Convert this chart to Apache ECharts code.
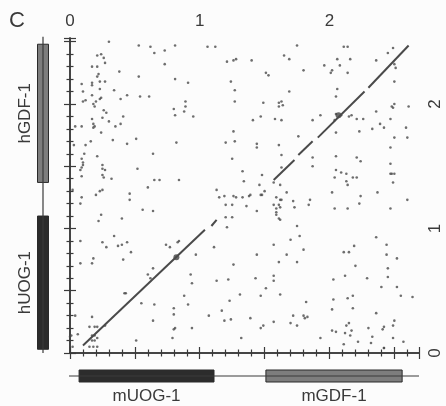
<!DOCTYPE html>
<html>
<head>
<meta charset="utf-8">
<script src="https://cdn.jsdelivr.net/npm/echarts@6/dist/echarts.min.js"></script>
<style>
  html, body { margin: 0; padding: 0; background: #fcfcfc; }
  #chart { width: 446px; height: 406px; }
</style>
</head>
<body>
<div id="chart"></div>
<script>
// sequence lengths shown on the axes (kb)
const xMax = 2.69;
const yMax = 2.53;

// gene maps along each axis
const mouseGeneNames = ['mUOG-1', 'mGDF-1'];
const mouseGeneStart = [0.07, 1.51];
const mouseGeneEnd = [1.11, 2.56];
const humanGeneNames = ['hUOG-1', 'hGDF-1'];
const humanGeneStart = [0.03, 1.37];
const humanGeneEnd = [1.10, 2.48];

// long runs of identity (diagonals), broken into the visible pieces
const uogSegments = [
  [[0.10, 0.06], [1.04, 0.99]],
  [[1.09, 1.02], [1.13, 1.07]]
];
const gdfSegments = [
  [[1.57, 1.39], [1.73, 1.55]],
  [[1.76, 1.59], [1.87, 1.70]],
  [[1.91, 1.73], [2.27, 2.10]],
  [[2.30, 2.13], [2.61, 2.47]]
];
const blobs = [[0.82, 0.77], [2.07, 1.91]];

const dotsTopLeft = [
  [0.30,2.50],[0.53,2.47],[0.62,2.46],[0.81,2.47],[1.06,2.46],[1.12,2.46],[0.65,2.41],[0.73,2.43],
  [0.21,2.39],[0.24,2.40],[0.26,2.37],[0.27,2.33],[0.17,2.30],[0.21,2.30],[0.73,2.32],[0.38,2.26],
  [0.22,2.24],[0.21,2.22],[0.53,2.22],[0.81,2.20],[0.23,2.18],[0.27,2.18],[0.17,2.17],[0.17,2.15],
  [0.91,2.17],[0.09,2.16],[0.23,2.12],[0.10,2.10],[0.34,2.11],[0.54,2.06],[0.61,2.06],[0.44,2.07],
  [0.17,2.07],[0.24,2.05],[0.23,2.04],[0.20,2.02],[0.18,2.00],[0.19,1.98],[0.10,2.02],[0.12,2.03],
  [0.39,2.04],[0.89,2.02],[0.89,1.98],[0.80,1.96],[0.88,1.94],[0.26,1.95],[0.28,1.93],[0.25,1.89],
  [0.41,1.90],[0.81,1.91],[0.95,1.90],[0.17,1.88],[0.30,1.86],[0.39,1.84],[0.35,1.82],[0.18,1.84],
  [0.19,1.82],[0.18,1.81],[0.04,1.82],[0.09,1.82],[0.24,1.77],[0.33,1.71],[0.51,1.72],[0.16,1.70],
  [0.82,1.69],[0.44,1.68],[0.12,1.67],[0.03,1.67],[0.11,1.60],[0.64,1.60],[0.21,1.58],[0.09,1.56],
  [0.10,1.53],[0.10,1.51],[0.09,1.49],[0.08,1.47],[0.09,1.42],[0.25,1.51],[0.25,1.48],[0.27,1.47],
  [0.52,1.48],[0.25,1.43],[0.26,1.41],[0.32,1.40],[0.65,1.39],[0.69,1.39],[0.84,1.39]
];
const dotsTopRight = [
  [1.75,2.47],[2.11,2.46],[2.14,2.46],[1.65,2.39],[1.69,2.36],[1.21,2.34],[1.26,2.35],[1.28,2.36],
  [1.40,2.35],[2.06,2.36],[2.16,2.36],[2.36,2.35],[2.45,2.41],[1.96,2.31],[2.08,2.31],[2.02,2.27],
  [2.01,2.25],[2.14,2.25],[1.80,2.27],[1.51,2.25],[1.53,2.23],[1.24,2.18],[1.27,2.11],[1.69,2.10],
  [2.06,2.12],[2.05,2.06],[1.27,2.02],[1.49,2.01],[1.61,2.01],[1.63,2.02],[1.61,1.98],[1.64,1.99],
  [1.41,1.87],[1.47,1.90],[1.58,1.88],[1.63,1.87],[1.87,1.87],[1.93,1.91],[2.05,1.92],[2.09,1.91],
  [2.15,1.90],[2.17,1.91],[2.04,1.87],[2.21,1.88],[2.26,1.88],[2.36,1.94],[2.39,1.84],[2.42,1.81],
  [2.33,1.80],[2.23,1.78],[1.26,1.78],[1.20,1.69],[1.27,1.70],[1.44,1.68],[1.44,1.65],[1.61,1.67],
  [1.76,1.74],[2.05,1.77],[1.63,1.59],[1.87,1.57],[2.05,1.58],[2.21,1.57],[2.24,1.54],[2.47,1.65],
  [1.25,1.56],[1.63,1.49],[1.87,1.50],[1.33,1.46],[1.48,1.43],[2.05,1.47],[2.09,1.45],[2.13,1.44],
  [2.04,1.41],[2.18,1.41],[2.21,1.41],
  [2.49,2.45],[2.50,2.32],[2.51,2.29],[2.50,2.18],[2.48,1.98],[2.49,1.97],[2.50,2.00],[2.61,1.98],
  [2.47,1.88],[2.59,1.81],[2.60,1.73],[2.50,1.73],[2.47,1.52],[2.47,1.44],[2.48,1.44],[2.50,1.44],
  [2.49,1.37]
];
const dotsBottomLeft = [
  [0.02,1.31],[0.09,1.25],[0.08,1.20],[0.20,1.27],[0.23,1.30],[0.25,1.31],[0.46,1.28],[0.46,1.23],
  [0.60,1.33],[1.13,1.31],[1.15,1.25],[0.56,1.15],[0.64,1.14],[0.24,1.11],[0.22,1.06],[0.40,1.08],
  [0.34,0.94],[0.08,0.90],[0.25,0.89],[0.44,0.89],[0.37,0.86],[0.40,0.87],[0.28,0.85],[0.47,0.81],
  [0.41,0.75],[0.18,0.76],[0.17,0.72],[0.08,0.72],[0.74,0.87],[0.77,0.85],[0.84,0.90],[0.83,0.89],
  [0.97,0.79],[1.11,0.85],[1.13,0.58],[0.64,0.68],[0.60,0.63],[0.62,0.60],[0.93,0.63],[0.94,0.56],
  [0.42,0.48],[0.43,0.48],[0.88,0.46],[0.91,0.39],[0.55,0.40],[0.65,0.39],[0.80,0.36],[0.80,0.31],
  [1.07,0.30],[0.04,0.30],[0.17,0.29],[0.64,0.26],[0.81,0.20],[0.80,0.19],[0.94,0.20],[0.15,0.21],
  [0.19,0.21],[0.21,0.21],[0.27,0.22],[0.17,0.14],[0.19,0.14],[0.17,0.10],[0.19,0.10],[0.21,0.12],
  [0.00,0.13],[0.01,0.14],[0.06,0.15],[0.51,0.10],[0.79,0.12],[0.15,0.05],[0.18,0.05],[0.21,0.05],
  [0.02,0.05]
];
const dotsBottomRight = [
  [1.57,1.37],[1.62,1.35],[1.34,1.38],[1.46,1.35],[1.50,1.30],[1.47,1.27],[1.48,1.27],[1.67,1.29],
  [1.59,1.25],[1.62,1.23],[1.63,1.23],[1.57,1.19],[1.61,1.19],[1.62,1.17],[1.59,1.16],[1.59,1.13],
  [1.59,1.11],[1.61,1.08],[1.62,1.07],[1.72,1.22],[1.73,1.17],[1.85,1.23],[1.84,1.19],[1.19,1.26],
  [1.26,1.26],[1.28,1.25],[1.33,1.25],[1.38,1.26],[1.39,1.27],[1.20,1.19],[1.25,1.19],[1.20,1.09],
  [1.25,1.09],[1.36,1.18],[1.44,1.14],[1.21,1.01],[1.75,1.02],[1.77,0.94],[1.70,0.91],[1.57,0.87],
  [1.80,0.83],[1.44,0.79],[1.67,0.79],[1.61,0.73],[1.75,0.73],[1.26,0.71],[1.57,0.62],[1.57,0.58],
  [1.22,0.59],[1.43,0.60],[1.51,0.52],[1.62,0.47],[1.31,0.47],[1.47,0.46],[1.23,0.42],[1.82,0.41],
  [1.17,0.34],[1.19,0.26],[1.24,0.27],[1.39,0.28],[1.47,0.20],[1.49,0.22],[1.57,0.25],[1.70,0.24],
  [1.72,0.30],[1.75,0.22],[1.80,0.30],[1.81,0.28],[1.83,0.29],[1.32,0.12],[1.93,0.12],[2.02,1.29],
  [2.14,1.35],[2.13,1.38],[2.24,1.26],[2.23,1.20],[2.37,1.29],[2.04,1.16],[2.14,1.16],[2.19,0.86],
  [2.11,0.81],[2.15,0.81],[2.36,0.93],[2.44,0.87],[2.20,0.70],[2.45,0.68],[2.12,0.62],[2.03,0.59],
  [2.29,0.60],[2.40,0.53],[2.18,0.46],[2.14,0.44],[2.03,0.43],[2.18,0.36],[2.02,0.35],[2.36,0.32],
  [2.15,0.24],[2.13,0.22],[2.17,0.18],[2.16,0.14],[2.02,0.18],[2.05,0.17],[2.12,0.16],[2.30,0.20],
  [2.42,0.21],[2.41,0.19],[2.33,0.13],[2.32,0.08],[2.22,0.09],[2.42,0.04],[2.11,0.07],
  [2.60,1.23],[2.47,1.16],[2.44,0.79],[2.52,0.76],[2.45,0.61],[2.52,0.53],[2.55,0.46],[2.64,0.45],
  [2.50,0.26],[2.49,0.22],[2.49,0.12],[2.57,0.09],[2.42,0.04]
];

const ink = '#3a3a3a';
const font = "'Liberation Sans', Arial, sans-serif";
const uogFill = '#2c2c2c';
const gdfFill = '#7d7d7d';

const axisLine = { show: true, lineStyle: { color: ink, width: 1.5 } };
const ticks = { show: true, length: 6, lineStyle: { color: ink, width: 1.2 } };
const minor = { show: true, splitNumber: 5, length: 3.5, lineStyle: { color: ink, width: 1.2 } };
const intLabel = v => (Math.abs(v - Math.round(v)) < 1e-6 ? String(Math.round(v)) : '');

function geneFill(name) {
  return name.indexOf('UOG') >= 0 ? uogFill : gdfFill;
}

function renderMouseGene(params, api) {
  const a = api.coord([api.value(0), 0.5]);
  const b = api.coord([api.value(1), 0.5]);
  const name = mouseGeneNames[params.dataIndex];
  return {
    type: 'group',
    children: [
      { type: 'rect', shape: { x: a[0], y: a[1] - 6, width: b[0] - a[0], height: 12 },
        style: { fill: geneFill(name), stroke: '#2a2a2a', lineWidth: 1 } },
      { type: 'text', x: (a[0] + b[0]) / 2, y: a[1] + 12,
        style: { text: name, fill: ink, font: '17px ' + font, align: 'center', verticalAlign: 'top' } }
    ]
  };
}

function renderHumanGene(params, api) {
  const a = api.coord([0.5, api.value(0)]);
  const b = api.coord([0.5, api.value(1)]);
  const name = humanGeneNames[params.dataIndex];
  return {
    type: 'group',
    children: [
      { type: 'rect', shape: { x: a[0] - 5.5, y: b[1], width: 11, height: a[1] - b[1] },
        style: { fill: geneFill(name), stroke: '#2a2a2a', lineWidth: 1 } },
      { type: 'text', x: a[0] - 18, y: (a[1] + b[1]) / 2, rotation: Math.PI / 2,
        style: { text: name, fill: ink, font: '17px ' + font, align: 'center', verticalAlign: 'middle' } }
    ]
  };
}

const dotStyle = { color: '#4a4a4a' };
const dotSeries = [dotsTopLeft, dotsTopRight, dotsBottomLeft, dotsBottomRight].map(d => ({
  type: 'scatter', xAxisIndex: 0, yAxisIndex: 0, data: d,
  symbolSize: 2.6, itemStyle: dotStyle, silent: true
}));
const diagSeries = uogSegments.concat(gdfSegments).map(seg => ({
  type: 'line', xAxisIndex: 0, yAxisIndex: 0, data: seg, showSymbol: false,
  lineStyle: { color: '#4a4a4a', width: 2 }, silent: true
}));

const chart = echarts.init(document.getElementById('chart'), null, { renderer: 'canvas' });
chart.setOption({
  backgroundColor: '#fcfcfc',
  animation: false,
  grid: [
    { left: 70, top: 38, width: 349, height: 315 },
    { left: 70, top: 368, width: 349, height: 16 },
    { left: 36, top: 38, width: 14, height: 315 }
  ],
  xAxis: [
    { gridIndex: 0, type: 'value', position: 'bottom', min: 0, max: xMax, interval: 0.5,
      axisLine: axisLine, axisTick: ticks, minorTick: minor, axisLabel: { show: false },
      splitLine: { show: false } },
    { gridIndex: 0, type: 'value', position: 'top', min: 0, max: xMax, interval: 0.5,
      axisLine: axisLine, axisTick: ticks, minorTick: minor, splitLine: { show: false },
      axisLabel: { show: true, formatter: intLabel, color: ink, fontSize: 17, fontFamily: font, margin: 8 } },
    { gridIndex: 1, type: 'value', min: 0, max: xMax, show: false },
    { gridIndex: 2, type: 'value', min: 0, max: 1, show: false }
  ],
  yAxis: [
    { gridIndex: 0, type: 'value', position: 'left', min: 0, max: yMax, interval: 0.5,
      axisLine: axisLine, axisTick: ticks, minorTick: minor, axisLabel: { show: false },
      splitLine: { show: false } },
    { gridIndex: 0, type: 'value', position: 'right', min: 0, max: yMax, interval: 0.5,
      axisLine: axisLine, axisTick: ticks, minorTick: minor, splitLine: { show: false },
      axisLabel: { show: true, formatter: intLabel, color: ink, fontSize: 17, fontFamily: font,
        margin: 8, rotate: 90 } },
    { gridIndex: 1, type: 'value', min: 0, max: 1, show: false },
    { gridIndex: 2, type: 'value', min: 0, max: yMax, show: false }
  ],
  graphic: [
    { type: 'text', left: 9, top: 10, style: { text: 'C', fill: ink, font: '22px ' + font } },
    // small break in the top axis line
    { type: 'rect', left: 221, top: 32, shape: { width: 5, height: 9 }, style: { fill: '#fcfcfc' }, z: 100 }
  ],
  series: dotSeries.concat(diagSeries).concat([
    { type: 'scatter', xAxisIndex: 0, yAxisIndex: 0, data: blobs, symbolSize: 6,
      itemStyle: { color: '#444' }, silent: true },
    { type: 'line', xAxisIndex: 2, yAxisIndex: 2, data: [[-0.02, 0.5], [xMax, 0.5]],
      showSymbol: false, clip: false, lineStyle: { color: ink, width: 1.2 }, silent: true },
    { type: 'custom', xAxisIndex: 2, yAxisIndex: 2, renderItem: renderMouseGene, clip: false,
      data: mouseGeneStart.map((s, i) => [s, mouseGeneEnd[i]]), silent: true },
    { type: 'line', xAxisIndex: 3, yAxisIndex: 3, data: [[0.5, 0], [0.5, yMax + 0.01]],
      showSymbol: false, clip: false, lineStyle: { color: ink, width: 1.2 }, silent: true },
    { type: 'custom', xAxisIndex: 3, yAxisIndex: 3, renderItem: renderHumanGene, clip: false,
      data: humanGeneStart.map((s, i) => [s, humanGeneEnd[i]]), silent: true }
  ])
});
</script>
</body>
</html>
